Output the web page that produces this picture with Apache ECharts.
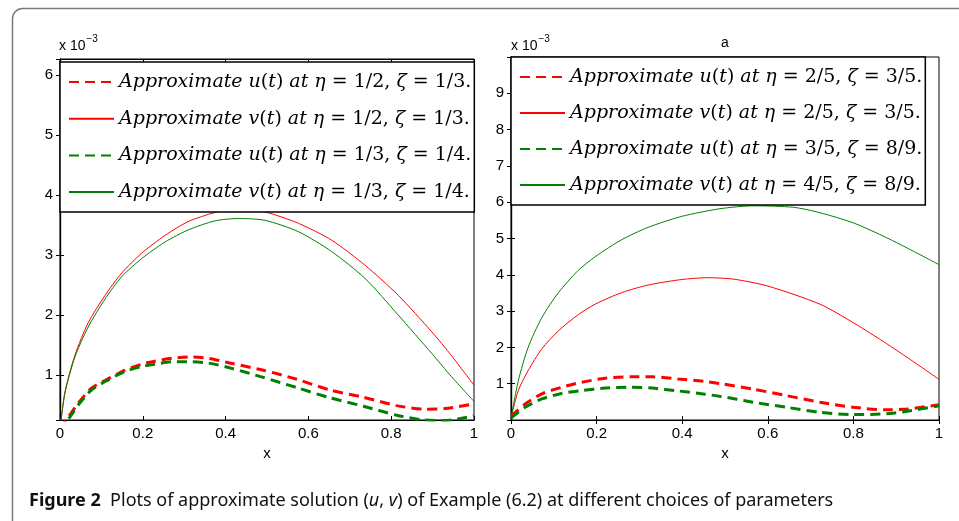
<!DOCTYPE html>
<html>
<head>
    <meta charset="UTF-8">
    <title>Figure 2</title>
    <script src="https://cdn.jsdelivr.net/npm/echarts@6/dist/echarts.min.js"></script>
    <style>
        html, body { margin: 0; padding: 0; background: #fff; }
        #fig { width: 959px; height: 521px; }
    </style>
</head>
<body>
<div id="fig"></div>
<script type="text/javascript">
    // values, y in units of 10^-3, as [x, y]
    var leftURed = [[0,0.1],[0.044,0.53],[0.076,0.78],[0.117,0.94],[0.157,1.08],[0.197,1.18],[0.229,1.23],[0.27,1.28],[0.318,1.3],[0.358,1.28],[0.41,1.2],[0.491,1.08],[0.572,0.93],[0.652,0.75],[0.733,0.63],[0.813,0.49],[0.882,0.43],[0.93,0.44],[1,0.52]];
    var leftVRed = [[0,0.1],[0.012,0.72],[0.036,1.33],[0.068,1.87],[0.109,2.33],[0.149,2.7],[0.197,3.03],[0.254,3.33],[0.31,3.56],[0.374,3.71],[0.43,3.78],[0.495,3.72],[0.576,3.53],[0.656,3.25],[0.737,2.83],[0.817,2.33],[0.898,1.72],[0.946,1.32],[1,0.83]];
    var leftUGreen = [[0,0.05],[0.044,0.5],[0.076,0.75],[0.117,0.92],[0.157,1.06],[0.197,1.14],[0.229,1.18],[0.27,1.22],[0.318,1.22],[0.358,1.2],[0.41,1.12],[0.491,0.96],[0.572,0.79],[0.652,0.62],[0.733,0.48],[0.813,0.33],[0.88,0.25],[0.93,0.24],[1,0.32]];
    var leftVGreen = [[0,0.1],[0.012,0.7],[0.036,1.3],[0.068,1.8],[0.109,2.27],[0.149,2.64],[0.197,2.94],[0.254,3.22],[0.31,3.42],[0.374,3.57],[0.431,3.61],[0.495,3.58],[0.576,3.39],[0.656,3.06],[0.737,2.61],[0.817,2.0],[0.898,1.36],[0.946,0.97],[1,0.56]];

    var rightURed = [[0,0.1],[0.033,0.44],[0.072,0.72],[0.118,0.9],[0.165,1.04],[0.22,1.15],[0.28,1.19],[0.329,1.19],[0.391,1.13],[0.453,1.06],[0.49,1.0],[0.566,0.85],[0.644,0.67],[0.722,0.49],[0.8,0.35],[0.878,0.28],[0.925,0.3],[1,0.42]];
    var rightVRed = [[0,0.05],[0.017,0.81],[0.04,1.36],[0.072,1.96],[0.111,2.46],[0.157,2.9],[0.198,3.2],[0.259,3.51],[0.321,3.72],[0.399,3.87],[0.46,3.92],[0.52,3.88],[0.6,3.69],[0.722,3.19],[0.8,2.68],[0.878,2.1],[0.956,1.48],[1,1.12]];
    var rightUGreen = [[0,0.05],[0.033,0.35],[0.072,0.58],[0.118,0.73],[0.165,0.81],[0.22,0.88],[0.28,0.9],[0.329,0.88],[0.391,0.8],[0.453,0.71],[0.49,0.65],[0.566,0.49],[0.644,0.35],[0.722,0.21],[0.8,0.15],[0.878,0.17],[0.925,0.24],[1,0.39]];
    var rightVGreen = [[0,0.05],[0.017,1.08],[0.04,2.0],[0.072,2.82],[0.111,3.51],[0.157,4.12],[0.198,4.51],[0.259,4.97],[0.321,5.31],[0.399,5.61],[0.488,5.82],[0.566,5.9],[0.66,5.86],[0.722,5.71],[0.8,5.43],[0.878,5.02],[0.94,4.65],[1,4.28]];

    var leftNames = [
        'Approximate u(t) at η = 1/2, ζ = 1/3.',
        'Approximate v(t) at η = 1/2, ζ = 1/3.',
        'Approximate u(t) at η = 1/3, ζ = 1/4.',
        'Approximate v(t) at η = 1/3, ζ = 1/4.'
    ];
    var rightNames = [
        'Approximate u(t) at η = 2/5, ζ = 3/5.',
        'Approximate v(t) at η = 2/5, ζ = 3/5.',
        'Approximate u(t) at η = 3/5, ζ = 8/9.',
        'Approximate v(t) at η = 4/5, ζ = 8/9.'
    ];
    var xTicks = [0, 0.2, 0.4, 0.6, 0.8, 1];

    var RED = '#ff0000', GREEN = '#008000';
    var sansFont = 'Liberation Sans';
    var mathFont = 'DejaVu Serif';

    var chart = echarts.init(document.getElementById('fig'));

    function xAxis(grid, pos) {
        return {
            type: 'value', gridIndex: grid, position: pos,
            min: xTicks[0], max: xTicks[xTicks.length - 1], interval: 0.2,
            name: pos === 'bottom' ? 'x' : '', nameLocation: 'middle', nameGap: 23,
            nameTextStyle: {color: '#000', fontFamily: sansFont, fontSize: 15},
            axisLine: {show: true, lineStyle: {color: '#000', width: 1.2}},
            axisTick: {show: true, inside: true, length: 4, lineStyle: {color: '#000'}},
            axisLabel: {show: pos === 'bottom', color: '#000', fontFamily: sansFont, fontSize: 15, margin: 6},
            splitLine: {show: false}
        };
    }
    function yAxis(grid, pos, min, max) {
        return {
            type: 'value', gridIndex: grid, position: pos,
            min: min, max: max, minInterval: 1, maxInterval: 1,
            axisLine: {show: true, lineStyle: {color: '#000', width: 1.2}},
            axisTick: {show: true, inside: true, length: 4, lineStyle: {color: '#000'}},
            axisLabel: {
                show: pos === 'left', color: '#000', fontFamily: sansFont, fontSize: 15, margin: 7,
                formatter: function (v) {
                    return (Math.abs(v - Math.round(v)) < 1e-9 && v > 0 && v < 10) ? String(Math.round(v)) : '';
                }
            },
            splitLine: {show: false}
        };
    }

    function line(name, data, color, dashed, xi, yi) {
        return {
            name: name, type: 'line', data: data,
            xAxisIndex: xi, yAxisIndex: yi,
            smooth: 0.25, symbol: 'none', clip: true,
            lineStyle: dashed ? {color: color, width: 3, type: [10, 6]} : {color: color, width: 1},
            itemStyle: {color: color},
            silent: true, animation: false
        };
    }

    function richName(name) {
        return name.replace(/([A-Za-zηζ]+)/g, '{it|$1}');
    }
    function legend(names, left, top, gap) {
        return {
            data: names, orient: 'vertical', left: left, top: top,
            padding: [9, 3, 9, 8], itemGap: gap, itemWidth: 45, itemHeight: 14,
            backgroundColor: '#fff', borderColor: '#000', borderWidth: 1.5,
            selectedMode: false,
            itemStyle: {opacity: 0, borderWidth: 0},
            formatter: richName,
            textStyle: {
                fontFamily: mathFont, fontSize: 19, lineHeight: 22, color: '#000',
                rich: {it: {fontFamily: mathFont, fontStyle: 'italic', fontSize: 19, lineHeight: 22, color: '#000'}}
            }
        };
    }

    var option = {
        backgroundColor: '#fff',
        animation: false,
        grid: [
            {left: 60, top: 59, width: 414, height: 361, show: true, borderColor: '#000', borderWidth: 1},
            {left: 511, top: 57, width: 428, height: 363, show: true, borderColor: '#000', borderWidth: 1}
        ],
        xAxis: [xAxis(0, 'bottom'), xAxis(0, 'top'), xAxis(1, 'bottom'), xAxis(1, 'top')],
        yAxis: [yAxis(0, 'left', 0.25, 6.27), yAxis(0, 'right', 0.25, 6.27), yAxis(1, 'left', 0, 10), yAxis(1, 'right', 0, 10)],
        legend: [legend(leftNames, 60, 62, 14.7), legend(rightNames, 511, 57, 14)],
        series: [
            line(leftNames[0], leftURed, RED, true, 0, 0),
            line(leftNames[1], leftVRed, RED, false, 0, 0),
            line(leftNames[2], leftUGreen, GREEN, true, 0, 0),
            line(leftNames[3], leftVGreen, GREEN, false, 0, 0),
            line(rightNames[0], rightURed, RED, true, 2, 2),
            line(rightNames[1], rightVRed, RED, false, 2, 2),
            line(rightNames[2], rightUGreen, GREEN, true, 2, 2),
            line(rightNames[3], rightVGreen, GREEN, false, 2, 2)
        ],
        graphic: [
            // card frame
            {type: 'rect', shape: {x: 12.5, y: 8.5, width: 1000, height: 600, r: 10}, silent: true,
             style: {fill: 'none', stroke: '#7a7a7a', lineWidth: 1.5}},
            // axis multipliers
            {type: 'text', left: 59, top: 34, silent: true, style: {
                text: '{b|x 10}{s|−3}', rich: {
                    b: {fontFamily: sansFont, fontSize: 14, color: '#000', padding: [8, 0, 0, 0]},
                    s: {fontFamily: sansFont, fontSize: 10, color: '#000', padding: [0, 0, 6, 1]}
                }}},
            {type: 'text', left: 511, top: 34, silent: true, style: {
                text: '{b|x 10}{s|−3}', rich: {
                    b: {fontFamily: sansFont, fontSize: 14, color: '#000', padding: [8, 0, 0, 0]},
                    s: {fontFamily: sansFont, fontSize: 10, color: '#000', padding: [0, 0, 6, 1]}
                }}},
            {type: 'text', x: 725, y: 43, silent: true, style: {
                text: 'a', fontFamily: sansFont, fontSize: 14, fill: '#000', align: 'center', verticalAlign: 'middle'}},
            // caption
            {type: 'text', left: 29, top: 492, silent: true, style: {
                text: '{b|Figure 2}  Plots of approximate solution ({i|u}, {i|v}) of Example (6.2) at different choices of parameters',
                fontFamily: 'Noto Sans', fontSize: 18, fill: '#111',
                rich: {
                    b: {fontFamily: 'Noto Sans', fontWeight: 'bold', fontSize: 18, color: '#111'},
                    i: {fontFamily: 'Noto Sans', fontStyle: 'italic', fontSize: 18, color: '#111'}
                }}}
        ]
    };

    chart.setOption(option);
</script>
</body>
</html>
